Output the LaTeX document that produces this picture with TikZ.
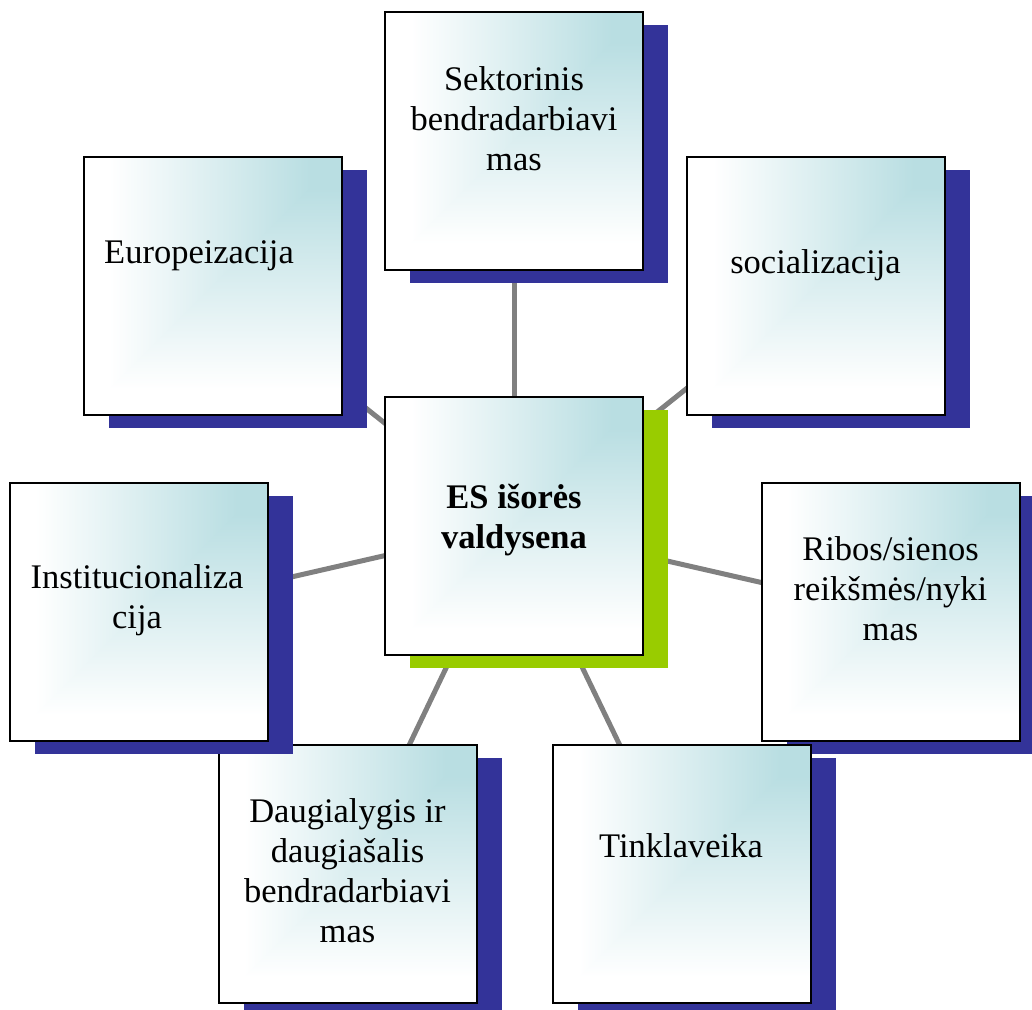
\documentclass[tikz,border=0pt]{standalone}
\usepackage{fontspec}
\setmainfont{Liberation Serif}
\usetikzlibrary{calc,backgrounds}

\definecolor{glow}{RGB}{185,222,226}
\definecolor{shadeblue}{RGB}{51,51,153}
\definecolor{shadegreen}{RGB}{153,204,0}
\definecolor{linkgray}{RGB}{128,128,128}

% corner gradient: teal in the upper right corner, fading to white towards
% the left side and the bottom edge
\newcommand\panelfill{%
  \path (path picture bounding box.north west) coordinate (pnw)
        (path picture bounding box.north east) coordinate (pne)
        (path picture bounding box.south west) coordinate (psw)
        (path picture bounding box.south east) coordinate (pse);
  \fill[white] (pnw) rectangle (pse);
  \shade[left color=white, right color=glow]
    ($(pnw)!0.1!(pne)$) rectangle ($(psw)!0.88!(pse)$);
  \fill[glow] ($(pnw)!0.88!(pne)$) rectangle (pse);
  \begin{scope}
    \clip (pne) -- (pse) -- (psw) -- cycle;
    \fill[glow] (pnw) rectangle ($(pne)!0.12!(pse)$);
    \shade[top color=glow, bottom color=white]
      ($(pnw)!0.12!(psw)$) rectangle ($(pne)!0.9!(pse)$);
    \fill[white] ($(pnw)!0.9!(psw)$) rectangle (pse);
  \end{scope}
}

% #1 name, #2 x, #3 y (centre), #4 shadow colour
\newcommand\putpanel[4]{%
  \fill[#4] (#2+25-129, #3+13-129) rectangle ++(258,258);
  \node[panel] (#1) at (#2,#3) {};
}

\begin{document}
\begin{tikzpicture}[x=1pt, y=-1pt,
  panel/.style={draw=black, line width=2pt, minimum width=258pt,
    minimum height=258pt, inner sep=0pt, path picture={\panelfill}},
  link/.style={draw=linkgray, line width=5pt},
  lbl/.style={font=\fontsize{34.5}{40}\selectfont, align=center,
    inner sep=0pt, anchor=base}]
\useasboundingbox (0,0) rectangle (1032,1009);

\putpanel{cen}{514}{526}{shadegreen}
\putpanel{sek}{514}{140.5}{shadeblue}
\putpanel{soc}{816}{285.5}{shadeblue}
\putpanel{rib}{890.5}{612}{shadeblue}
\putpanel{tin}{682}{874}{shadeblue}
\putpanel{dau}{347.5}{874}{shadeblue}
\putpanel{ins}{138.5}{612}{shadeblue}
\putpanel{eur}{212.5}{286}{shadeblue}

\begin{pgfonlayer}{background}
  \draw[link] (cen.center) -- (sek.center);
  \draw[link] (cen.center) -- (soc.center);
  \draw[link] (cen.center) -- (rib.center);
  \draw[link] (cen.center) -- (tin.center);
  \draw[link] (cen.center) -- (dau.center);
  \draw[link] (cen.center) -- (ins.center);
  \draw[link] (cen.center) -- (eur.center);
\end{pgfonlayer}

% labels are placed by the baseline of their last line
\node[lbl, font=\fontsize{34.5}{40}\selectfont\bfseries] (cen-t) at (514,548) {ES išorės\\valdysena};
\node[lbl] (sek-t) at (514,170) {Sektorinis\\bendradarbiavi\\mas};
\node[lbl] (soc-t) at (815.5,273) {socializacija};
\node[lbl] (rib-t) at (890.5,640) {Ribos/sienos\\reikšmės/nyki\\mas};
\node[lbl] (tin-t) at (681,857) {Tinklaveika};
\node[lbl] (dau-t) at (347.5,942) {Daugialygis ir\\daugiašalis\\bendradarbiavi\\mas};
\node[lbl] (ins-t) at (137,628) {Institucionaliza\\cija};
\node[lbl] (eur-t) at (199,263) {Europeizacija};
\end{tikzpicture}
\end{document}
